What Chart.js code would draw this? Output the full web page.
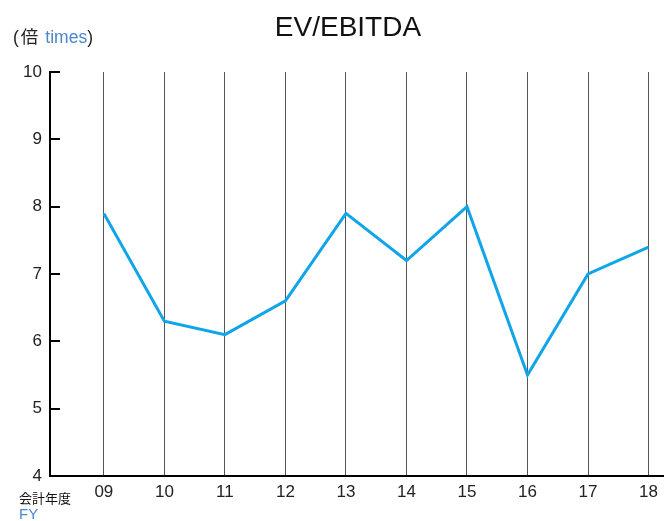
<!DOCTYPE html>
<html>
<head>
<meta charset="utf-8">
<script src="https://cdn.jsdelivr.net/npm/chart.js"></script>
<style>
  body { margin: 0; background: #fff; font-family: "Liberation Sans", "Noto Sans CJK JP", sans-serif; }
  .wrap { position: relative; width: 664px; height: 521px; }
  canvas { position: absolute; left: 0; top: 0; }
  .title { position: absolute; left: 0; width: 696px; top: 11px; text-align: center; font-size: 28px; color: #111; }
  .unit { position: absolute; left: 13px; top: 23px; font-size: 17.5px; color: #222; white-space: nowrap; }
  .unit .jp { font-family: "Noto Sans CJK JP", sans-serif; font-weight: 400; margin-left: 2px; margin-right: 7px; }
  .fy { position: absolute; left: 19px; top: 490px; font-size: 13px; line-height: 16px; color: #111; font-family: "Noto Sans CJK JP", sans-serif; }
  .fy .blue { font-family: "Liberation Sans", sans-serif; font-size: 15px; }
  .blue { color: #4a87cc; }
</style>
</head>
<body>
<div class="wrap">
  <canvas id="c" width="664" height="521"></canvas>
  <div class="title">EV/EBITDA</div>
  <div class="unit">(<span class="jp">倍</span><span class="blue">times</span>)</div>
  <div class="fy">会計年度<br><span class="blue">FY</span></div>
</div>
<script>
const years = ['09', '10', '11', '12', '13', '14', '15', '16', '17', '18'];
const evEbitda = [7.9, 6.3, 6.1, 6.6, 7.9, 7.2, 8.0, 5.5, 7.0, 7.4];
const yTicks = [4, 5, 6, 7, 8, 9, 10];

// short tick marks drawn inward from the y axis
const innerTicks = {
  id: 'innerTicks',
  afterDraw(chart) {
    const y = chart.scales.y;
    const ctx = chart.ctx;
    ctx.save();
    ctx.strokeStyle = '#000';
    ctx.lineWidth = 2;
    yTicks.forEach(v => {
      const py = Math.round(y.getPixelForValue(v));
      ctx.beginPath();
      ctx.moveTo(y.right, py);
      ctx.lineTo(y.right + 10, py);
      ctx.stroke();
    });
    ctx.restore();
  }
};

new Chart(document.getElementById('c'), {
  type: 'line',
  data: {
    datasets: [{
      data: evEbitda.map((v, i) => ({ x: i, y: v })),
      borderColor: '#0fa5e8',
      borderWidth: 3,
      pointRadius: 0,
      tension: 0
    }]
  },
  options: {
    responsive: false,
    animation: false,
    layout: { padding: { top: 72, right: 0, left: 0, bottom: 0 } },
    plugins: { legend: { display: false }, tooltip: { enabled: false } },
    scales: {
      x: {
        type: 'linear',
        min: -0.89,
        max: 9.25,
        afterBuildTicks: s => { s.ticks = years.map((_, i) => ({ value: i })); },
        afterFit: s => { s.height = 45; },
        ticks: {
          callback: v => years[v],
          color: '#222',
          font: { family: 'Liberation Sans', size: 17 },
          padding: 6,
          maxRotation: 0,
          autoSkip: false
        },
        grid: { color: '#555', lineWidth: 1, drawTicks: false },
        border: { color: '#000', width: 2 }
      },
      y: {
        min: 4,
        max: 10,
        afterBuildTicks: s => { s.ticks = yTicks.map(v => ({ value: v })); },
        afterFit: s => { s.width = 50; },
        ticks: {
          color: '#222',
          font: { family: 'Liberation Sans', size: 17 },
          padding: 8
        },
        grid: { display: true, drawOnChartArea: false, drawTicks: false },
        border: { color: '#000', width: 2 }
      }
    }
  },
  plugins: [innerTicks]
});
</script>
</body>
</html>
